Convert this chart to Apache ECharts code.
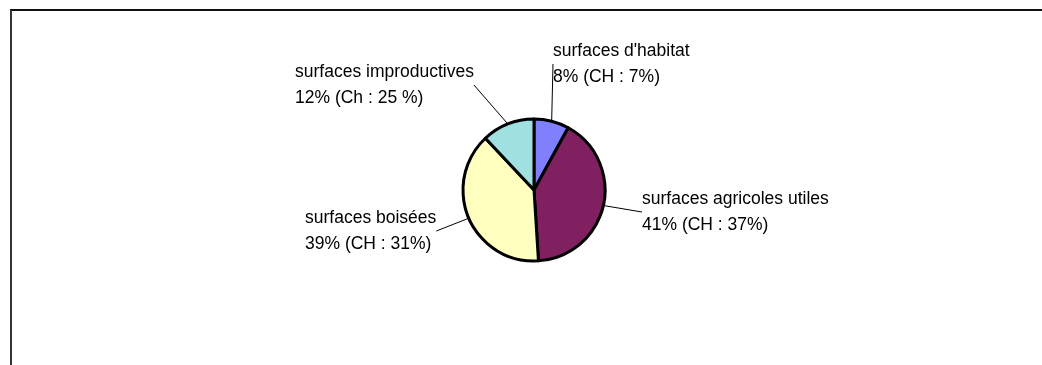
<!DOCTYPE html>
<html><head><meta charset="utf-8">
<script src="https://cdn.jsdelivr.net/npm/echarts@6/dist/echarts.min.js"></script>
<style>html,body{margin:0;padding:0;background:#fff}#c{width:1042px;height:365px}</style>
</head><body><div id="c"></div>
<script>
const categories = ["surfaces d'habitat", "surfaces agricoles utiles", "surfaces boisées", "surfaces improductives"];
const values = [8, 41, 39, 12];
const chValues = ["CH : 7%", "CH : 37%", "CH : 31%", "Ch : 25 %"];
const colors = ['#8080FF', '#802060', '#FFFFC0', '#A0E0E0'];
// label anchor positions (left edge, vertical middle) in pixels
const labelPos = [[553, 64], [642, 212], [305, 231], [295, 85]];

const chart = echarts.init(document.getElementById('c'), null, {renderer: 'canvas'});
chart.setOption({
  animation: false,
  backgroundColor: '#fff',
  graphic: [
    {type: 'line', shape: {x1: 10, y1: 10, x2: 1042, y2: 10}, style: {stroke: '#111', lineWidth: 2}},
    {type: 'line', shape: {x1: 11, y1: 10, x2: 11, y2: 365}, style: {stroke: '#333', lineWidth: 2}}
  ],
  series: [{
    type: 'pie',
    center: [534, 190],
    radius: 71,
    startAngle: 90,
    clockwise: true,
    data: categories.map((n, i) => ({
      name: n, value: values[i],
      itemStyle: {color: colors[i]},
      label: {formatter: n + '\n' + values[i] + '% (' + chValues[i] + ')'}
    })),
    itemStyle: {borderColor: '#000', borderWidth: 3},
    label: {
      show: true, position: 'outside', color: '#000',
      fontFamily: 'Liberation Sans, Arial, sans-serif', fontSize: 17.5, lineHeight: 26,
      align: 'left'
    },
    labelLine: {show: true, length: 10, length2: 0, lineStyle: {color: '#000', width: 1}},
    labelLayout: function (p) {
      const pos = labelPos[p.dataIndex];
      return {x: pos[0], y: pos[1], align: 'left', verticalAlign: 'middle'};
    },
    emphasis: {disabled: true}
  }]
});
</script></body></html>
